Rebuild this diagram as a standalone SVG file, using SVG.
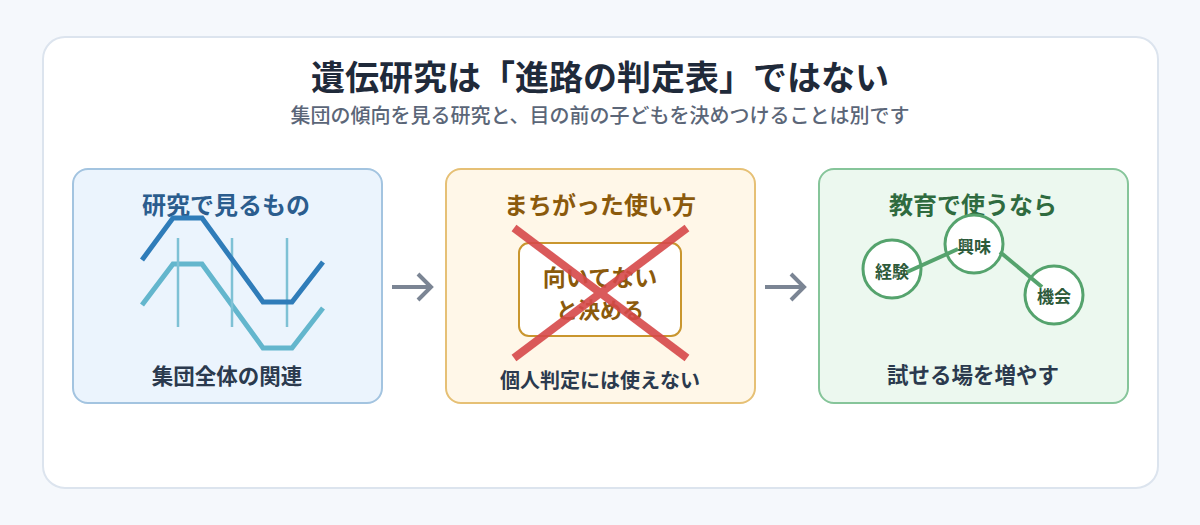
<svg xmlns="http://www.w3.org/2000/svg" width="1200" height="525" viewBox="0 0 1200 525">
<style>
text{font-family:"Noto Sans CJK JP","Noto Sans",sans-serif;text-anchor:middle}
.title{font-size:34px;font-weight:700;fill:#1f2a3a}
.sub{font-size:20px;font-weight:500;fill:#5b6678}
.ptitle{font-size:24px;font-weight:700}
.bottom{font-size:20px;font-weight:700;fill:#2b3a4e}
.circ{fill:#fff;stroke:#55a36d;stroke-width:3}
.clabel{font-size:17px;font-weight:700;fill:#2d5a3a}
.arrow{fill:none;stroke:#7b8594;stroke-width:4}
</style>
<rect width="1200" height="525" fill="#f5f8fc"/>
<rect x="43" y="37" width="1115" height="451" rx="22" fill="#fff" stroke="#dce4ee" stroke-width="2"/>
<text class="title" x="600" y="90">遺伝研究は「進路の判定表」ではない</text>
<text class="sub" x="600" y="123">集団の傾向を見る研究と、目の前の子どもを決めつけることは別です</text>

<g id="panel-research">
<rect x="73" y="169" width="309" height="234" rx="15" fill="#ebf4fd" stroke="#a3c4e0" stroke-width="2"/>
<text class="ptitle" x="226" y="214" fill="#2b5d8e">研究で見るもの</text>
<polyline points="142,305 173,264 202,264 263,348 292,348 323,308" fill="none" stroke="#63b6cd" stroke-width="5"/>
<g stroke="#7ec1d5" stroke-width="2.5">
<line x1="178" y1="238" x2="178" y2="327"/>
<line x1="232" y1="238" x2="232" y2="327"/>
<line x1="287" y1="238" x2="287" y2="327"/>
</g>
<polyline points="142,260 173,218 202,218 263,302 292,302 323,262" fill="none" stroke="#2f7cb9" stroke-width="5"/>
<text class="bottom" x="227" y="384" style="font-size:21.5px">集団全体の関連</text>
</g>

<g id="panel-wrong">
<rect x="446" y="169" width="309" height="234" rx="15" fill="#fff7e8" stroke="#e6c075" stroke-width="2"/>
<text class="ptitle" x="600" y="214" fill="#8b5a0c">まちがった使い方</text>
<rect x="519" y="243" width="162" height="93" rx="10" fill="#fff" stroke="#c9962e" stroke-width="2"/>
<text x="600" y="286" style="font-size:23px;font-weight:700;fill:#8b5a0c">向いてない</text>
<text x="600" y="318" style="font-size:22px;font-weight:700;fill:#8b5a0c">と決める</text>
<g stroke="#d6494a" stroke-width="8" opacity="0.9">
<line x1="514" y1="228" x2="687" y2="358"/>
<line x1="687" y1="228" x2="514" y2="358"/>
</g>
<text class="bottom" x="600" y="388">個人判定には使えない</text>
</g>

<g id="panel-edu">
<rect x="819" y="169" width="309" height="234" rx="15" fill="#ecf8ef" stroke="#86c59a" stroke-width="2"/>
<text class="ptitle" x="973" y="214" fill="#2f6b3f">教育で使うなら</text>
<g id="node-keiken"><circle class="circ" cx="892" cy="269" r="29"/><text class="clabel" x="892" y="278">経験</text></g>
<g id="node-kyomi"><circle class="circ" cx="974" cy="244" r="29"/><text class="clabel" x="974" y="253">興味</text></g>
<g id="node-kikai"><circle class="circ" cx="1054" cy="295" r="29"/><text class="clabel" x="1054" y="303">機会</text></g>
<g stroke="#55a36d" stroke-width="4">
<line x1="907" y1="272" x2="958" y2="249"/>
<line x1="1000" y1="252" x2="1042" y2="287"/>
</g>
<text class="bottom" x="973" y="383" style="font-size:21.5px">試せる場を増やす</text>
</g>

<g id="connectors">
<path class="arrow" d="M392,287 H431 M418,274 L431,287 L418,300"/>
<path class="arrow" d="M765,287 H804 M791,274 L804,287 L791,300"/>
</g>
</svg>
